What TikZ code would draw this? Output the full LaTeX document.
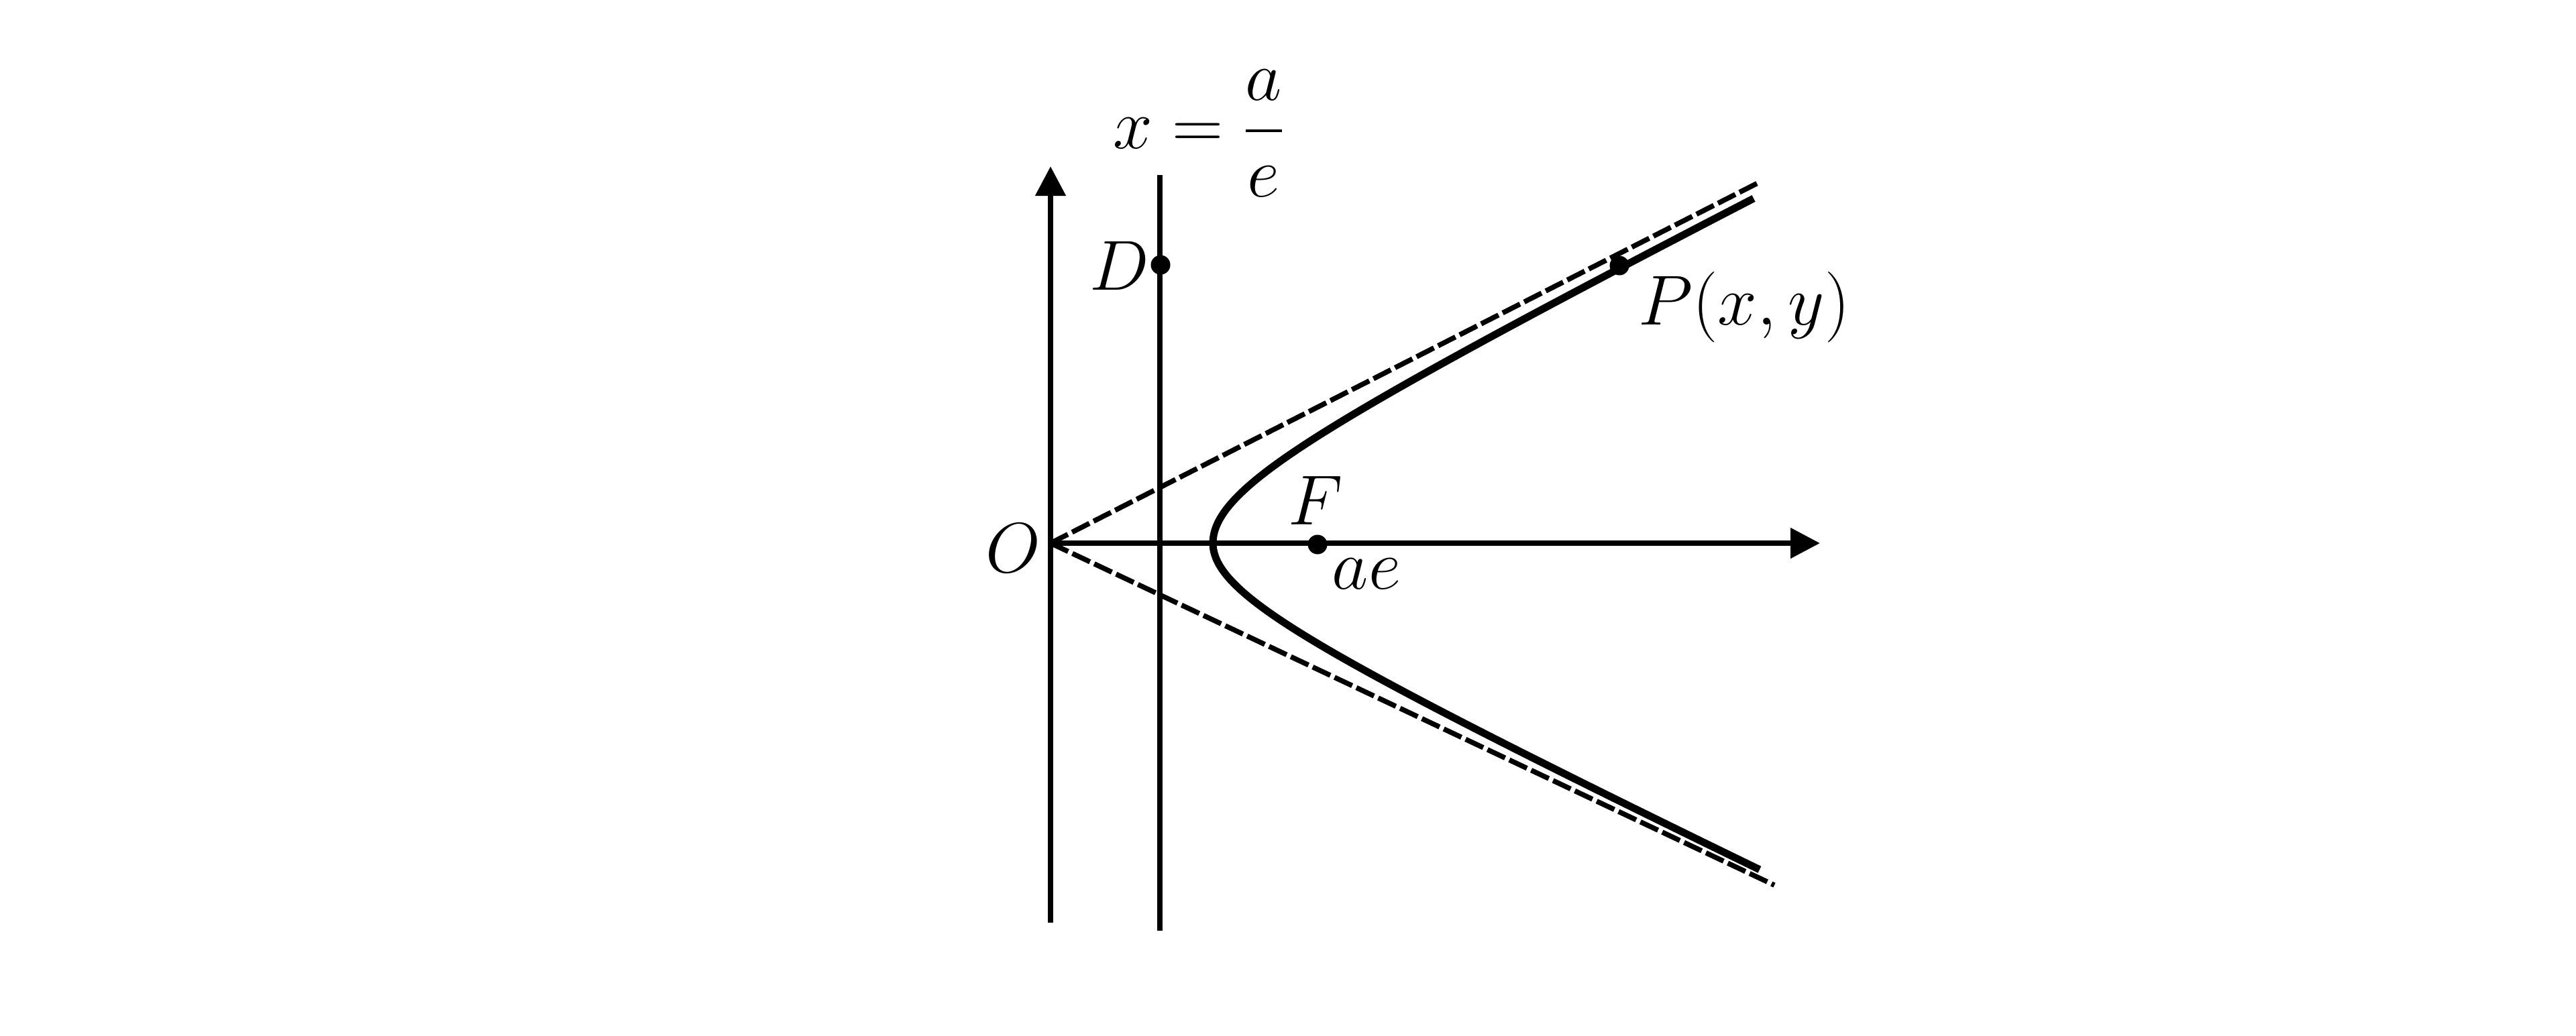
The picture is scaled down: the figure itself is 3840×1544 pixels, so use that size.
\RequirePackage{fix-cm}
\documentclass[tikz,border=0pt]{standalone}
\usepackage{exscale}
\usetikzlibrary{arrows.meta}
\begin{document}
\begin{tikzpicture}[x=0.01cm,y=-0.01cm,
  axis/.style={line width=0.08cm},
  curve/.style={line width=0.11cm},
  asym/.style={line width=0.075cm, dash pattern=on 0.29cm off 0.07cm},
  dotpt/.style={circle,fill=black,inner sep=0pt,minimum size=0.29cm},
  lbl/.style={inner sep=0pt,font=\fontsize{30}{36}\selectfont},
  tip/.style={-{Triangle[length=0.44cm,width=0.44cm]}}]
\useasboundingbox (0,0) rectangle (3840,1544);
\coordinate (O) at (1566,810);
\coordinate (ybot) at (1566,1376);
\coordinate (ytop) at (1566,248);
\coordinate (xend) at (2713,810);
\coordinate (dtop) at (1729,261);
\coordinate (dbot) at (1729,1388);
\coordinate (Ua) at (2622,272);
\coordinate (La) at (2645,1320);
\draw[axis,tip] (ybot) -- (ytop);
\draw[axis,tip] (O) -- (xend);
\draw[axis] (dtop) -- (dbot);
\draw[asym] (O) -- (Ua);
\draw[asym] (O) -- (La);
\draw[curve] plot[domain=-2.154:2.146,samples=121,smooth]
  ({1566+242*cosh(\x)},{810-(118.25+3.75*sign(\x))*sinh(\x)});
\node[dotpt] (D) at (1730,395) {};
\node[dotpt] (F) at (1964,812) {};
\node[dotpt] (P) at (2414,396) {};
\node[lbl] (Dl) at (1669,396) {$D$};
\node[lbl] (Ol) at (1510,817) {$O$};
\node[lbl] (Fl) at (1961,746) {$F$};
\node[lbl] (ael) at (2037,856) {$ae$};
\node[lbl] (Pl) at (2600,458) {$P(x,y)$};
\node[lbl] (dir) at (1787,199) {$\displaystyle x=\frac{a}{e}$};
\end{tikzpicture}
\end{document}
